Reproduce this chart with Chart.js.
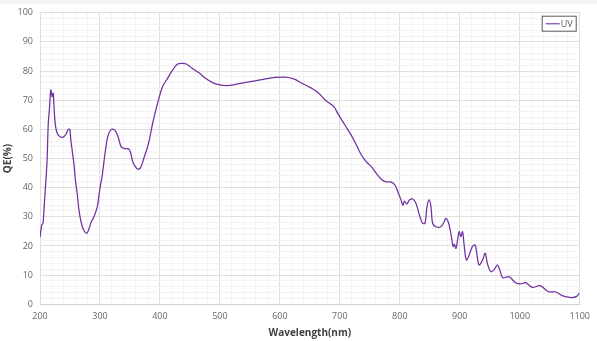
<!DOCTYPE html>
<html>
<head>
<meta charset="utf-8">
<script src="https://cdn.jsdelivr.net/npm/chart.js@4.4.1/dist/chart.umd.min.js"></script>
<style>
  html, body { margin: 0; padding: 0; background: #fff; }
  #wrap { width: 597px; height: 341px; position: relative; }
</style>
</head>
<body>
<div id="wrap"><canvas id="chart" width="597" height="341"></canvas></div>
<script>
const SERIES_NAME = 'UV';
const LINE_COLOR = '#7030A0';

// wavelength (nm) and QE (%)
const wavelength = [
    200, 203, 205, 208, 211.6, 213.8, 216, 218, 220.4, 222, 223.7, 226, 230.4, 238.6, 244, 247, 249.7,
    251.4, 253.6, 257, 259, 262, 265, 269, 273.5, 278, 281, 285.6, 290, 295.6, 299.5, 304, 307.7,
    313, 318.8, 324.3, 329.8, 335.4, 340.9, 349, 354.7, 361.3, 367, 374, 381, 387.8, 396, 404.4,
    412.7, 421, 429, 436.5, 444, 454, 465, 476, 487, 498, 512, 526, 542.6, 559, 576, 592, 609,
    623, 637, 651, 662, 676, 690, 697, 708.4, 719, 727.6, 736, 744, 752.5, 760.8, 769, 777, 785.6,
    792, 796.7, 802, 805, 807.8, 811.6, 816, 821.6, 827, 832.7, 838, 842, 845.4, 849, 852, 854.7,
    860, 868.5, 874, 876.7, 880.6, 884, 886.9, 889, 891, 893.6, 896.3, 899, 901.7, 904.5, 907.3,
    911, 915.6, 921, 925.6, 928.4, 932, 938, 942.5, 946, 951.7, 957, 962.7, 966.7, 972, 982, 993,
    1001.5, 1009.8, 1021, 1034, 1048, 1059, 1073, 1087, 1095.6, 1099
];
const qe = [
    23, 27.2, 27.8, 36.9, 48.4, 62, 67.8, 73.5, 71.2, 72.4, 66.6, 60.9, 58, 57.3, 58.6, 60, 60,
    56.3, 52.9, 47.2, 42.6, 38.1, 32.3, 27.8, 25.2, 24.3, 25.5, 28.3, 30, 33.5, 39.2, 44.5, 50.6,
    57.5, 60, 59.8, 57.7, 54, 53.4, 53.1, 48.9, 46.6, 46.6, 50.6, 55.2, 62, 68.9, 74.6,
    77.5, 80.3, 82.3, 82.6, 82.4, 80.9, 79.4, 77.5, 76.1, 75.3, 75, 75.4, 76.1, 76.6, 77.3, 77.8, 77.9,
    77.3, 75.8, 74.3, 72.9, 70, 67.8, 65.3, 61.5, 58, 54.6, 51.2, 48.9, 47.2, 44.9, 42.9, 42, 41.9,
    40.9, 38.6, 35.8, 34, 35.4, 34.4, 35.8, 36.1, 34.6, 30.6, 27.8, 27.8, 33.5, 35.8, 33.5, 27.8,
    26.6, 26.6, 28.3, 29.5, 28.3, 25.5, 22, 19.8, 20.6, 19.2, 22, 24.9, 23.2, 24.9, 20.3,
    15.2, 16.9, 19.8, 20.3, 17.5, 13.5, 15.2, 17.5, 14, 11.2, 11.8, 13.5, 11.8, 9.1, 9.5, 7.4,
    7, 7.4, 5.8, 6.4, 4.3, 4.3, 2.8, 2.3, 2.8, 3.8
];

const xTicks = [200, 300, 400, 500, 600, 700, 800, 900, 1000, 1100];
const yTicks = [0, 10, 20, 30, 40, 50, 60, 70, 80, 90, 100];

const points = wavelength.map((w, i) => ({ x: w, y: qe[i] }));

// light strip at the top of the picture
const backdrop = {
    id: 'backdrop',
    beforeDraw(chart) {
        const ctx = chart.ctx;
        ctx.save();
        ctx.fillStyle = '#ffffff';
        ctx.fillRect(0, 0, chart.width, chart.height);
        ctx.fillStyle = '#f4f4f4';
        ctx.fillRect(0, 0, chart.width, 4);
        ctx.restore();
    }
};

// boxed legend inside the plot area, top right
const boxLegend = {
    id: 'boxLegend',
    afterDraw(chart) {
        const ctx = chart.ctx;
        const area = chart.chartArea;
        const w = 34, h = 15;
        const x = area.right - 4 - w, y = area.top + 3;
        ctx.save();
        ctx.fillStyle = '#fff';
        ctx.fillRect(x, y, w, h);
        ctx.strokeStyle = '#595959';
        ctx.lineWidth = 1;
        ctx.strokeRect(x + 0.5, y + 0.5, w, h);
        ctx.strokeStyle = LINE_COLOR;
        ctx.globalAlpha = 0.75;
        ctx.lineWidth = 1.5;
        ctx.beginPath();
        ctx.moveTo(x + 4, y + 8);
        ctx.lineTo(x + 18, y + 8);
        ctx.stroke();
        ctx.globalAlpha = 1;
        ctx.fillStyle = '#595959';
        ctx.font = '9px "Open Sans"';
        ctx.textBaseline = 'middle';
        ctx.fillText(SERIES_NAME, x + 19, y + 8.5);
        ctx.restore();
    }
};

new Chart(document.getElementById('chart'), {
    type: 'line',
    data: {
        datasets: [{
            label: SERIES_NAME,
            data: points,
            borderColor: LINE_COLOR,
            borderWidth: 1.25,
            pointRadius: 0,
            tension: 0.35,
            fill: false
        }]
    },
    options: {
        responsive: false,
        animation: false,
        layout: { padding: { top: 12.7, right: 14, left: 0, bottom: 0 } },
        plugins: {
            legend: { display: false },
            tooltip: { enabled: false }
        },
        scales: {
            x: {
                type: 'linear',
                min: 200,
                max: 1100,
                afterFit: scale => { scale.height = 36.7; },
                border: { color: '#d0d0d0' },
                grid: {
                    drawTicks: false,
                    color: c => xTicks.includes(c.tick.value) ? '#dedede' : '#f3f3f3'
                },
                ticks: {
                    stepSize: 20,
                    autoSkip: false,
                    maxRotation: 0,
                    padding: 7,
                    color: '#666',
                    font: { family: 'Open Sans', size: 9 },
                    callback: v => xTicks.includes(v) ? String(v) : ''
                },
                title: {
                    display: true,
                    text: 'Wavelength(nm)',
                    color: '#404040',
                    font: { family: 'Open Sans', size: 10, weight: 'bold' },
                    padding: { top: 0, bottom: 2 }
                }
            },
            y: {
                min: 0,
                max: 100,
                afterFit: scale => { scale.width = 40; },
                border: { color: '#dedede' },
                grid: {
                    drawTicks: false,
                    color: c => yTicks.includes(c.tick.value) ? '#dedede' : '#f3f3f3'
                },
                ticks: {
                    stepSize: 2,
                    autoSkip: false,
                    padding: 7,
                    color: '#666',
                    font: { family: 'Open Sans', size: 9 },
                    callback: v => yTicks.includes(v) ? String(v) : ''
                },
                title: {
                    display: true,
                    text: 'QE(%)',
                    color: '#404040',
                    font: { family: 'Open Sans', size: 10, weight: 'bold' },
                    padding: { top: 2, bottom: 0 }
                }
            }
        }
    },
    plugins: [backdrop, boxLegend]
});
</script>
</body>
</html>
